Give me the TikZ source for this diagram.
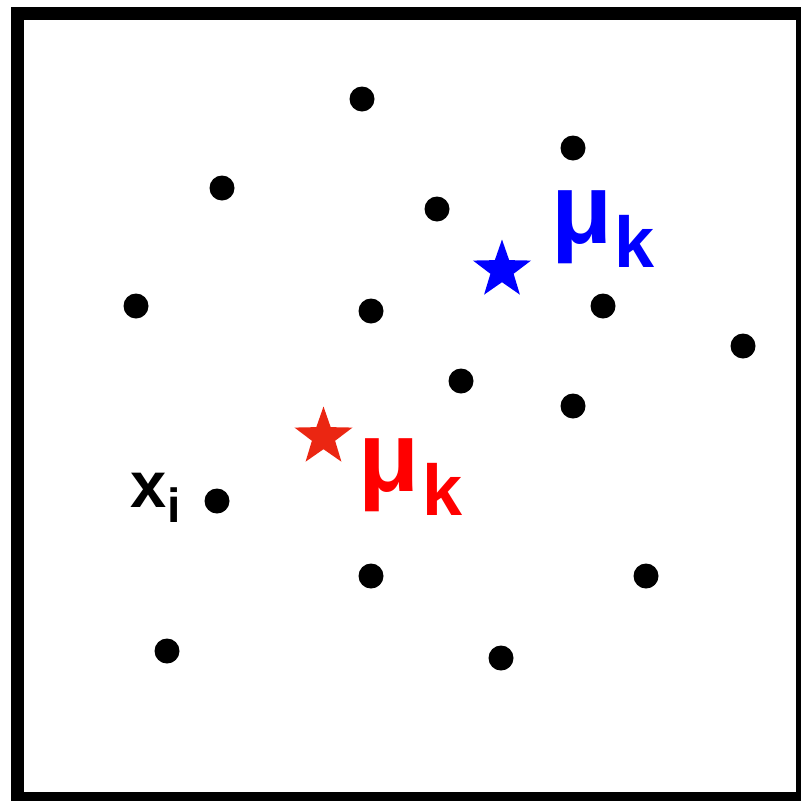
\documentclass[tikz,border=0pt]{standalone}
\usepackage{fontspec}
\setmainfont{Liberation Sans}
\usetikzlibrary{shapes.geometric}
\definecolor{starred}{RGB}{235,38,18}
\begin{document}
\begin{tikzpicture}[x=1pt,y=-1pt,
  pt/.style={circle,fill=black,inner sep=0pt,minimum size=25pt},
  centroid/.style={star,star points=5,star point ratio=2.5,inner sep=0pt,minimum size=61pt,shape border rotate=0},
  lbl/.style={inner sep=0pt,anchor=base west,font=\bfseries}]
\useasboundingbox (0,0) rectangle (801,801);
\clip (0,0) rectangle (801,801);
\draw[line width=13pt] (17.5,13.5) rectangle (802.5,798.5);
\foreach \n/\x/\y in {a/362/99,b/573/148,c/222/188,d/437/209,e/136/306,f/371/311,g/603/306,h/743/346,i/461/381,j/573/406,k/217/501,l/371/576,m/646/576,n/167/651,o/501/658}
  \node[pt] (p\n) at (\x,\y) {};
\node[centroid,fill=blue] (sblue) at (502,270) {};
\node[centroid,fill=starred] (sred) at (323.5,437) {};
\node[lbl,text=blue] (mublue) at (551,243) {\fontsize{100}{100}\selectfont μ};
\node[lbl,text=blue] (kblue) at (614,267) {\fontsize{72}{72}\selectfont k};
\node[lbl,text=red] (mured) at (358,491) {\fontsize{100}{100}\selectfont μ};
\node[lbl,text=red] (kred) at (422,515) {\fontsize{72}{72}\selectfont k};
\node[lbl] (xlab) at (130,507) {\fontsize{65}{65}\selectfont x};
\node[lbl] (ilab) at (167,522) {\fontsize{48}{48}\selectfont i};
\end{tikzpicture}
\end{document}
